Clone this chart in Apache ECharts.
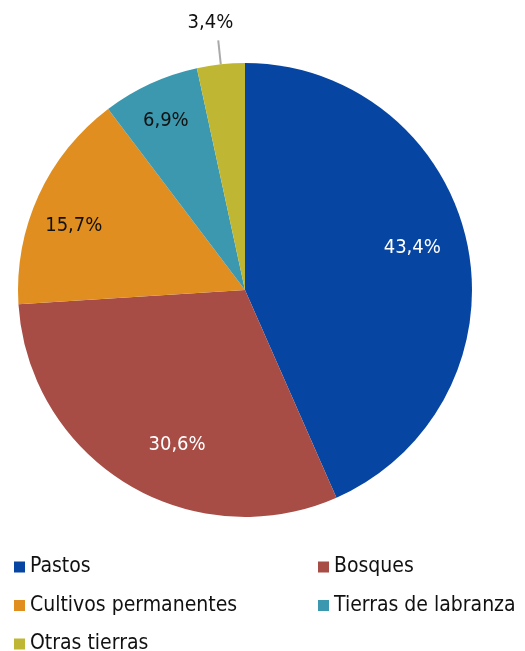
<!DOCTYPE html>
<html><head><meta charset="utf-8">
<script src="https://cdn.jsdelivr.net/npm/echarts@6/dist/echarts.min.js"></script>
<style>html,body{margin:0;padding:0;background:#fff}#c{width:525px;height:651px}</style>
</head><body><div id="c"></div>
<script>
var categories = ['Pastos', 'Bosques', 'Cultivos permanentes', 'Tierras de labranza', 'Otras tierras'];
var values = [43.4, 30.6, 15.7, 6.9, 3.4];
var labels = ['43,4%', '30,6%', '15,7%', '6,9%', '3,4%'];
var colors = ['#0645A1', '#A84C46', '#E08E1F', '#3B98AE', '#BFB733'];
var labelColors = ['#ffffff', '#ffffff', '#111111', '#111111', '#111111'];
var legendLeftCol = ['Pastos', 'Cultivos permanentes', 'Otras tierras'];
var legendRightCol = ['Bosques', 'Tierras de labranza'];

var FONT = '"DejaVu Sans Condensed", "Liberation Sans Narrow", sans-serif';
var center = [245, 290];
var R = 227;
// small nudges of the labels (Excel best-fit placement)
var labelNudge = [[-2, -7], [22, 7], [-14, 8], [-7, -12], [15, -18]];

var mainData = categories.map(function (c, i) {
  var d = { name: c, value: values[i], itemStyle: { color: colors[i] } };
  if (i === 4) {
    d.label = { show: true, position: 'outside', formatter: labels[i], color: labelColors[i],
      fontFamily: FONT, fontSize: 20, distanceToLabelLine: 0 };
    d.labelLine = { show: true, length: 24, length2: 0, lineStyle: { color: '#AAAAAA', width: 2 } };
  }
  return d;
});
var labelData = categories.map(function (c, i) {
  return { name: c, value: values[i],
    label: { show: i < 4, formatter: labels[i], color: labelColors[i] } };
});

function legendCfg(items, left) {
  return {
    data: items, left: left, top: 556, height: 160, orient: 'vertical',
    itemWidth: 11, itemHeight: 11, itemGap: 16.5, icon: 'rect',
    selectedMode: false, padding: 0,
    textStyle: { fontFamily: FONT, fontSize: 21, color: '#111', lineHeight: 22 }
  };
}

var chart = echarts.init(document.getElementById('c'), null, { renderer: 'canvas' });
chart.setOption({
  animation: false,
  legend: [legendCfg(legendLeftCol, 14), legendCfg(legendRightCol, 318)],
  series: [{
    type: 'pie',
    center: center,
    radius: [0, R],
    startAngle: 90,
    clockwise: true,
    label: { show: false },
    labelLine: { show: false },
    emphasis: { disabled: true },
    labelLayout: function (p) {
      if (p.dataIndex === 4) return { dx: labelNudge[4][0], dy: labelNudge[4][1] };
    },
    data: mainData
  }, {
    type: 'pie',
    center: center,
    radius: [113, R],
    startAngle: 90,
    clockwise: true,
    silent: true,
    itemStyle: { color: 'rgba(0,0,0,0)' },
    label: { show: true, position: 'inside', fontFamily: FONT, fontSize: 20 },
    labelLine: { show: false },
    emphasis: { disabled: true },
    legendHoverLink: false,
    labelLayout: function (p) {
      var n = labelNudge[p.dataIndex];
      return { dx: n[0], dy: n[1] };
    },
    data: labelData
  }]
});
</script></body></html>
